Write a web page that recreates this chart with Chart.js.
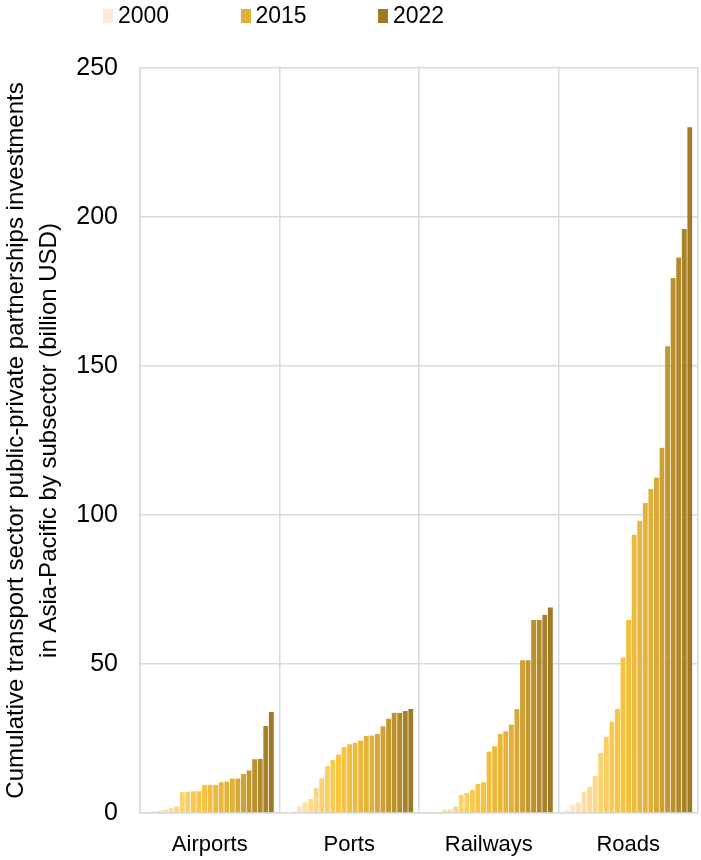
<!DOCTYPE html>
<html>
<head>
<meta charset="utf-8">
<script src="https://cdn.jsdelivr.net/npm/chart.js@4"></script>
<style>
    body { margin: 0; background: #fff; }
    #wrap { position: relative; width: 701px; height: 860px; }
    #legend { position: absolute; top: 2px; left: 103px; display: flex; font: 23px "Liberation Sans", Arial, sans-serif; color: #000; }
    #legend .item { width: 137.5px; display: flex; align-items: center; }
    #legend .swatch { width: 10px; height: 14px; margin-right: 5px; }
</style>
</head>
<body>
<div id="wrap">
    <canvas id="graph" width="701" height="860"></canvas>
    <div id="legend"></div>
</div>
<script>
// cumulative PPP investment by subsector, billion USD, one value per year
const subsectors = ['Airports', 'Ports', 'Railways', 'Roads'];
const years = [2000, 2001, 2002, 2003, 2004, 2005, 2006, 2007, 2008, 2009, 2010, 2011,
    2012, 2013, 2014, 2015, 2016, 2017, 2018, 2019, 2020, 2021, 2022];

const airports = [0, 0.7, 0.9, 1.1, 1.6, 2.2, 7.0, 7.1, 7.3, 7.3, 9.5, 9.5,
    9.5, 10.3, 10.6, 11.6, 11.6, 13.1, 14.3, 18.0, 18.2, 29.2, 33.9];
const ports = [0.1, 0.5, 2.3, 3.6, 4.8, 8.3, 11.7, 15.8, 17.8, 19.6, 22.1, 23.1,
    23.6, 24.3, 25.9, 26.0, 26.6, 29.1, 31.6, 33.6, 33.6, 34.2, 34.9];
const railways = [0, 0.3, 0.3, 1.1, 1.1, 2.2, 6.1, 6.8, 7.8, 9.7, 10.3, 20.6,
    22.4, 26.6, 27.4, 29.7, 34.9, 51.3, 51.3, 64.8, 64.8, 66.5, 69.0];
const roads = [1.0, 2.7, 3.5, 7.2, 8.8, 12.4, 20.2, 25.6, 30.6, 34.9, 52.2, 64.8,
    93.4, 98.1, 104.0, 108.7, 112.6, 122.6, 156.6, 179.5, 186.4, 196.0, 230.1];

const legendYears = [2000, 2015, 2022];
const yTicks = [0, 50, 100, 150, 200, 250];

// colour ramp: cream -> bright yellow -> gold -> dark olive gold
const stops = [
    {i: 0, c: [253, 235, 213]},
    {i: 9, c: [252, 197, 63]},
    {i: 15, c: [226, 175, 55]},
    {i: 22, c: [158, 122, 36]}
];

function shade(i) {
    for (let k = 0; k < stops.length - 1; k++) {
        let a = stops[k], b = stops[k + 1];
        if (i <= b.i) {
            let t = (i - a.i) / (b.i - a.i);
            let c = a.c.map(function (v, j) { return Math.round(v + (b.c[j] - v) * t); });
            return 'rgb(' + c.join(',') + ')';
        }
    }
}

const FONT = '"Liberation Sans", Arial, sans-serif';
const GRID = '#d9d9d9';

let datasets = years.map(function (year, i) {
    return {
        label: String(year),
        data: [airports[i], ports[i], railways[i], roads[i]],
        backgroundColor: shade(i),
        // faint light edge between neighbouring years
        borderColor: 'rgba(255,255,255,0.2)',
        borderWidth: {left: 1, right: 0, top: 0, bottom: 0},
        borderSkipped: 'start',
        // bars sit edge to edge, so let them overlap by a hair to avoid seams
        inflateAmount: 0.3
    };
});

let chart = new Chart(document.getElementById('graph').getContext('2d'), {
    type: 'bar',
    data: {labels: subsectors, datasets: datasets},
    options: {
        responsive: false,
        animation: false,
        layout: {padding: {top: 68, right: 3, left: 0, bottom: 0}},
        datasets: {bar: {categoryPercentage: 0.918, barPercentage: 1.0}},
        plugins: {
            legend: {display: false},
            tooltip: {enabled: false}
        },
        scales: {
            x: {
                grid: {color: GRID, lineWidth: 1.5, offset: true, drawTicks: false},
                border: {color: GRID, width: 1.5},
                ticks: {color: '#000', padding: 19, font: {family: FONT, size: 22}},
                afterFit: function (scale) { scale.height = 47; }
            },
            y: {
                min: 0,
                max: 250,
                afterBuildTicks: function (scale) {
                    scale.ticks = yTicks.map(function (v) { return {value: v}; });
                },
                grid: {color: GRID, lineWidth: 1.5, drawTicks: false},
                border: {color: GRID, width: 1.5},
                ticks: {color: '#000', padding: 22, font: {family: FONT, size: 25}},
                title: {
                    display: true,
                    text: ['Cumulative transport sector public-private partnerships investments',
                        'in Asia-Pacific by subsector (billion USD)'],
                    color: '#000',
                    padding: {top: 0, bottom: 0},
                    font: {family: FONT, size: 24, lineHeight: 1.38}
                },
                afterFit: function (scale) { scale.width = 140; }
            }
        }
    }
});

// legend only lists a few of the years
let legendBox = document.getElementById('legend');
chart.data.datasets.forEach(function (ds) {
    if (legendYears.indexOf(Number(ds.label)) < 0) return;
    let item = document.createElement('div');
    item.className = 'item';
    item.innerHTML = '<span class="swatch" style="background:' + ds.backgroundColor + '"></span>' + ds.label;
    legendBox.appendChild(item);
});
</script>
</body>
</html>
